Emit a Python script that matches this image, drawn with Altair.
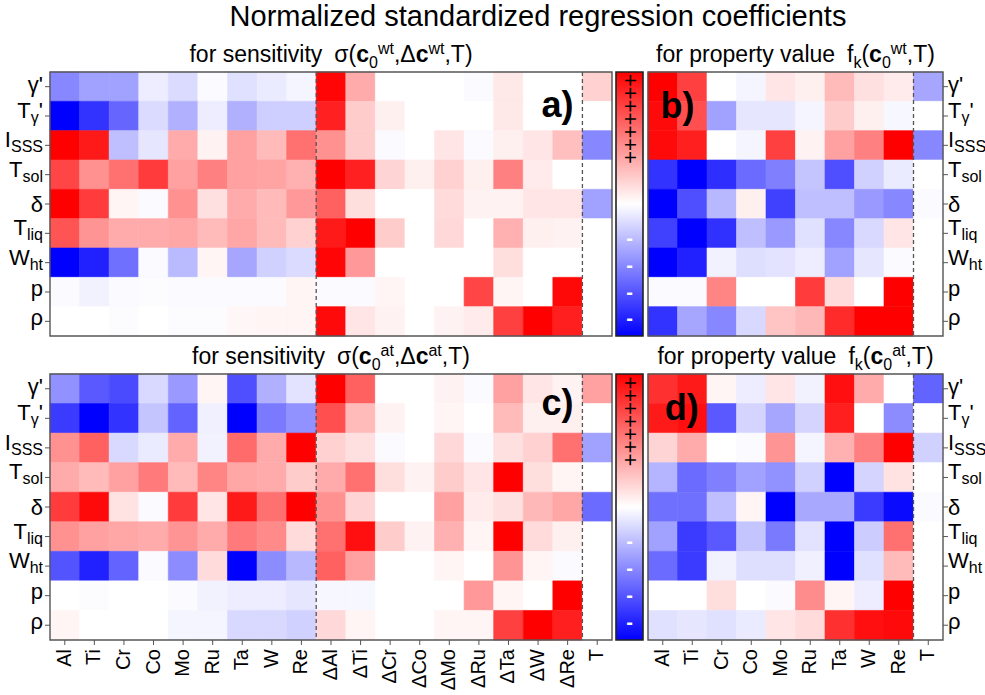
import altair as alt
import pandas as pd

# ---------------- data ----------------
TITLE = "Normalized standardized regression coefficients"
SENS_TEXT = "for sensitivity"
PROP_TEXT = "for property value"
SUPERS = ["wt", "at"]
PANEL_TAGS = ["a)", "b)", "c)", "d)"]
PLUS_SIGNS = "+" * 7
MINUS_SIGNS = ["-"] * 4

ROW_MAIN = ["γ'", "T", "I", "T", "δ", "T", "W", "p", "ρ"]
ROW_SUB = ["", "γ", "SSS", "sol", "", "liq", "ht", "", ""]
ROW_SUFFIX = ["", "'", "", "", "", "", "", "", ""]

ELEMENTS = ["Al", "Ti", "Cr", "Co", "Mo", "Ru", "Ta", "W", "Re"]
DELTA_ELEMENTS = ["ΔAl", "ΔTi", "ΔCr", "ΔCo", "ΔMo", "ΔRu", "ΔTa", "ΔW", "ΔRe"]
TEMP = ["T"]

# a) sensitivity, wt  (rows: γ', Tγ', Isss, Tsol, δ, Tliq, Wht, p, ρ)
SENS_WT = [
    [-0.47, -0.37, -0.37, -0.07, -0.14, -0.02, -0.12, -0.08, -0.04, 0.98, 0.33, 0, 0, 0, -0.02, 0.09, 0, 0, 0.18],
    [-1.0, -0.80, -0.60, -0.14, -0.31, -0.07, -0.31, -0.19, -0.19, 0.87, 0.20, 0.06, 0, 0, 0, 0.09, 0, 0, 0],
    [1.0, 0.90, -0.25, -0.10, 0.33, 0.05, 0.37, 0.27, 0.56, 0.43, 0.20, -0.02, 0, 0.10, -0.02, 0.06, 0.10, 0.25, -0.47],
    [0.73, 0.43, 0.56, 0.77, 0.37, 0.50, 0.37, 0.36, 0.31, 1.0, 0.87, 0.17, 0.06, 0.18, 0.06, 0.50, 0.08, 0, 0],
    [1.0, 0.77, 0.04, -0.02, 0.43, 0.12, 0.33, 0.27, 0.40, 0.62, 0.13, 0, 0, 0.14, 0.05, 0.05, 0.10, 0.10, -0.37],
    [0.67, 0.42, 0.33, 0.33, 0.35, 0.27, 0.35, 0.27, 0.18, 0.90, 1.0, 0.20, 0, 0.15, 0, 0.31, 0.06, 0.05, 0],
    [-1.0, -0.87, -0.56, -0.02, -0.27, 0.04, -0.35, -0.18, -0.14, 0.98, 0.40, 0, 0, 0, 0, 0.13, 0, 0, 0],
    [-0.02, -0.05, -0.02, -0.01, -0.02, -0.02, -0.02, -0.02, 0.04, -0.02, -0.02, 0.04, 0, 0, 0.73, 0.04, 0, 0.97, 0],
    [0, 0, -0.01, 0, -0.01, -0.01, 0.03, 0.04, 0.04, 0.96, 0.10, 0.05, 0, 0.05, 0.08, 0.75, 1.0, 0.88, 0],
]

# b) property value, wt
PROP_WT = [
    [1.0, 0.75, 0, -0.04, 0.10, 0.06, 0.27, 0.12, 0.08, -0.35],
    [0.96, 0.69, -0.37, -0.10, -0.10, -0.04, 0.20, 0.06, -0.03, 0],
    [0.96, 0.88, 0, -0.04, 0.75, 0.05, 0.37, 0.50, 1.0, -0.47],
    [-0.80, -1.0, -0.82, -0.58, -0.50, -0.23, -0.69, -0.18, -0.08, 0],
    [-1.0, -0.69, -0.28, 0.06, -0.75, -0.25, -0.25, -0.40, -0.47, -0.02],
    [-0.75, -1.0, -0.81, -0.25, -0.40, -0.12, -0.47, -0.15, 0.10, 0],
    [-1.0, -0.87, -0.05, -0.13, -0.11, -0.07, -0.37, -0.10, -0.02, 0],
    [-0.02, -0.02, 0.48, 0, 0, 0.77, 0.14, 0, 1.0, 0],
    [-0.80, -0.35, -0.47, -0.15, 0.23, 0.28, 0.83, 1.0, 1.0, 0],
]

# c) sensitivity, at
SENS_AT = [
    [-0.43, -0.65, -0.71, -0.15, -0.40, 0.04, -0.69, -0.31, -0.11, 1.0, 0.62, 0, 0, 0.05, -0.02, 0.37, 0.10, 0.05, 0.37],
    [-0.77, -1.0, -0.80, -0.23, -0.61, -0.06, -1.0, -0.52, -0.43, 0.69, 0.27, 0.05, 0, 0.04, 0, 0.27, 0.06, 0.06, 0],
    [0.43, 0.62, -0.15, -0.08, 0.33, -0.05, 0.58, 0.33, 1.0, 0.18, 0.12, -0.02, 0, 0.15, -0.02, 0.12, 0.18, 0.56, -0.37],
    [0.33, 0.27, 0.37, 0.52, 0.27, 0.48, 0.35, 0.33, 0.20, 0.33, 0.56, 0.13, 0.05, 0.20, 0.10, 1.0, 0.13, 0.04, 0],
    [0.77, 0.96, 0.11, -0.02, 0.77, 0.10, 0.90, 0.56, 1.0, 0.43, 0.17, 0, 0, 0.37, 0.08, 0.12, 0.28, 0.35, -0.58],
    [0.43, 0.37, 0.35, 0.33, 0.42, 0.33, 0.52, 0.46, 0.14, 0.56, 0.94, 0.20, 0.05, 0.31, 0.04, 1.0, 0.14, 0.06, 0],
    [-0.67, -0.87, -0.61, -0.02, -0.45, 0.14, -1.0, -0.45, -0.28, 0.62, 0.37, 0, 0, 0.04, 0, 0.42, 0.04, -0.02, 0],
    [0, -0.01, 0, 0, -0.02, -0.05, -0.07, -0.07, -0.10, -0.03, -0.03, 0, 0, 0, 0.40, 0.04, 0, 1.0, 0],
    [0.04, 0, 0, 0, -0.04, -0.04, -0.15, -0.15, -0.18, 0.15, 0.04, 0, 0, 0.04, 0.04, 0.75, 1.0, 0.88, 0],
]

# d) property value, at
PROP_AT = [
    [0.81, 0.90, 0.04, -0.07, 0.10, -0.05, 0.94, 0.33, 0, -0.61],
    [0.90, 0.94, -0.65, -0.17, -0.35, -0.17, 0.88, 0, -0.45, 0],
    [0.17, 0.33, 0, -0.02, 0.42, -0.04, 0.31, 0.50, 1.0, -0.18],
    [-0.29, -0.58, -0.50, -0.37, -0.43, -0.18, -1.0, -0.17, 0.11, 0],
    [-0.56, -0.56, -0.25, 0.04, -1.0, -0.34, -0.34, -0.77, -0.96, -0.02],
    [-0.37, -0.77, -0.65, -0.23, -0.52, -0.11, -1.0, -0.20, 0.56, 0],
    [-0.58, -0.77, -0.05, -0.13, -0.13, -0.06, -1.0, -0.12, 0.27, 0],
    [0, 0, 0.13, 0, -0.02, 0.45, 0.04, -0.07, 1.0, 0],
    [-0.12, -0.10, -0.12, -0.08, 0.10, 0.14, 0.81, 0.94, 0.96, 0],
]

# ---------------- style / layout ----------------
FONT = "Liberation Sans"
GRID = "#555555"
LEFT_X = (50, 612)
CBAR_X = (616, 643)
RIGHT_X = (648, 943)
TOP_Y = (72, 336)
BOT_Y = (374, 640)
HEAD_M, HEAD_S = 23, 16
LAB_M, LAB_S = 22, 16

W_REG = {' ': 278, 'f': 278, 'o': 556, 'r': 333, 's': 500, 'e': 556, 'n': 556, 'i': 222,
         't': 278, 'v': 500, 'y': 500, 'p': 556, 'a': 556, 'l': 222, 'u': 556, 'k': 500,
         'T': 611, 'w': 722, 'h': 556, 'q': 556, 'S': 667, 'I': 278, 'W': 944, '(': 333,
         ')': 333, ',': 278, '0': 556, "'": 191, 'γ': 500, 'δ': 556, 'ρ': 571, 'σ': 617,
         'Δ': 668}
W_BOLD = {'c': 556}


def tw(s, size, bold=False):
    tab = W_BOLD if bold else W_REG
    return sum(tab.get(ch, 556) for ch in s) * size / 1000.0


CSCALE = alt.Scale(domain=[-1, 0, 1], range=["#0000ff", "#ffffff", "#ff0000"],
                   interpolate="rgb", clamp=True)


def text_layer(txt, xv, yv, X, Y, **kw):
    d = pd.DataFrame({"t": [txt], "x": [xv], "y": [yv]})
    opts = dict(font=FONT, color="black")
    opts.update(kw)
    return alt.Chart(d).mark_text(**opts).encode(x=X("x"), y=Y("y"), text="t:N")


def heading_segments(kind, sup):
    if kind == "sens":
        return [(SENS_TEXT, HEAD_M, False, 0), None, ("σ(", HEAD_M, False, 0),
                ("c", HEAD_M, True, 0), ("0", HEAD_S, False, 1), (sup, HEAD_S, False, -1),
                (",Δ", HEAD_M, False, 0), ("c", HEAD_M, True, 0), (sup, HEAD_S, False, -1),
                (",T)", HEAD_M, False, 0)]
    return [(PROP_TEXT, HEAD_M, False, 0), None, ("f", HEAD_M, False, 0),
            ("k", HEAD_S, False, 1), ("(", HEAD_M, False, 0), ("c", HEAD_M, True, 0),
            ("0", HEAD_S, False, 1), (sup, HEAD_S, False, -1), (",T)", HEAD_M, False, 0)]


def panel(mat, cols, xr, yr, dashed, tag, tag_pos, side, show_x, heading):
    nc, nr = len(cols), len(ROW_MAIN)
    xs = alt.Scale(domain=[0, nc], range=list(xr), nice=False, zero=False)
    ys = alt.Scale(domain=[0, nr], range=list(yr), nice=False, zero=False)

    def X(f):
        return alt.X(f, type="quantitative", scale=xs, axis=None)

    def Y(f):
        return alt.Y(f, type="quantitative", scale=ys, axis=None)

    recs = [dict(x0=j, x1=j + 1, y0=i, y1=i + 1, v=mat[i][j])
            for i in range(nr) for j in range(nc)]
    df = pd.DataFrame(recs)
    layers = []
    layers.append(alt.Chart(df).mark_rect(strokeWidth=0.6).encode(
        x=X("x0"), x2=alt.X2("x1"), y=Y("y0"), y2=alt.Y2("y1"),
        color=alt.Color("v:Q", scale=CSCALE, legend=None),
        stroke=alt.Stroke("v:Q", scale=CSCALE, legend=None)))
    dd = pd.DataFrame({"xd": dashed, "ya": [0] * len(dashed), "yb": [nr] * len(dashed)})
    layers.append(alt.Chart(dd).mark_rule(strokeDash=[4, 3], color=GRID, strokeWidth=1.3).encode(
        x=X("xd"), y=Y("ya"), y2=alt.Y2("yb")))
    fr = pd.DataFrame({"a": [0], "b": [nc], "c": [0], "d": [nr]})
    layers.append(alt.Chart(fr).mark_rect(fillOpacity=0, stroke=GRID, strokeWidth=1.4).encode(
        x=X("a"), x2=alt.X2("b"), y=Y("c"), y2=alt.Y2("d")))

    # row ticks
    tk = pd.DataFrame({"xe": [0 if side == "left" else nc] * nr,
                       "yc": [i + 0.5 for i in range(nr)]})
    layers.append(alt.Chart(tk).mark_rule(color=GRID, strokeWidth=1,
                                          x2Offset=-5 if side == "left" else 5).encode(
        x=X("xe"), x2=alt.X2("xe"), y=Y("yc")))

    # row labels (main + subscript + suffix)
    anchor = 0 if side == "left" else nc
    for i in range(nr):
        segs = [(ROW_MAIN[i], LAB_M, 0), (ROW_SUB[i], LAB_S, 1), (ROW_SUFFIX[i], LAB_M, 0)]
        segs = [s for s in segs if s[0]]
        widths = [tw(t, sz) for t, sz, _ in segs]
        has_sub = any(k == 1 for _, _, k in segs)
        if has_sub:
            base = 2
        elif ROW_MAIN[i] == "δ":
            base = 7.5
        elif ROW_MAIN[i] in ("p", "ρ"):
            base = 3.5
        else:
            base = 5.5
        cur = (-7 - sum(widths)) if side == "left" else 5
        for (t, sz, k), w in zip(segs, widths):
            layers.append(text_layer(t, anchor, i + 0.5, X, Y, fontSize=sz, align="left",
                                     baseline="alphabetic", dx=cur, dy=base + (5 if k else 0)))
            cur += w

    # column ticks + labels
    if show_x:
        cx = pd.DataFrame({"lab": cols, "xc": [j + 0.5 for j in range(nc)], "yb": [nr] * nc})
        layers.append(alt.Chart(cx).mark_rule(color=GRID, strokeWidth=1, y2Offset=5).encode(
            x=X("xc"), y=Y("yb"), y2=alt.Y2("yb")))
        layers.append(alt.Chart(cx).mark_text(font=FONT, fontSize=20, angle=270, align="right",
                                              baseline="middle", yOffset=9, color="black").encode(
            x=X("xc"), y=Y("yb"), text="lab:N"))

    # panel tag
    layers.append(text_layer(tag, tag_pos[0], tag_pos[1], X, Y, fontSize=36, fontWeight="bold",
                             align="center", baseline="alphabetic"))

    # heading above the panel
    segs = heading_segments(*heading)
    gap = 12
    total = sum(gap if s is None else tw(s[0], s[1], s[2]) for s in segs)
    cur = -total / 2.0
    for s in segs:
        if s is None:
            cur += gap
            continue
        t, sz, bold, pos = s
        dy = {0: -10, 1: -4, -1: -18}[pos]
        layers.append(text_layer(t, nc / 2.0, 0, X, Y, fontSize=sz,
                                 fontWeight="bold" if bold else "normal",
                                 align="left", baseline="alphabetic", dx=cur, dy=dy))
        cur += tw(t, sz, bold)
    return alt.layer(*layers)


def colorbar(xr, yr):
    xs = alt.Scale(domain=[0, 1], range=list(xr), nice=False, zero=False)
    ys = alt.Scale(domain=[0, 1], range=list(yr), nice=False, zero=False)

    def X(f):
        return alt.X(f, type="quantitative", scale=xs, axis=None)

    def Y(f):
        return alt.Y(f, type="quantitative", scale=ys, axis=None)

    grad = alt.LinearGradient(
        gradient="linear", x1=0, x2=0, y1=0, y2=1,
        stops=[alt.GradientStop(color="#ff0000", offset=0),
               alt.GradientStop(color="#ffffff", offset=0.5),
               alt.GradientStop(color="#0000ff", offset=1)])
    d = pd.DataFrame({"a": [0], "b": [1]})
    bar = alt.Chart(d).mark_rect(color=grad, stroke="#222222", strokeWidth=1.6).encode(
        x=X("a"), x2=alt.X2("b"), y=Y("a"), y2=alt.Y2("b"))
    pos = pd.DataFrame({"x": [0.5], "yp": [0.178], "ym": [0.655]})
    # the plus column is one rotated run of "+" glyphs (a plus looks the same rotated)
    plus = alt.Chart(pos).mark_text(font=FONT, fontSize=22, color="black", baseline="middle",
                                    align="center", angle=90, text=PLUS_SIGNS).encode(
        x=X("x"), y=Y("yp"))
    minus = alt.Chart(pos).mark_text(font=FONT, fontSize=20, fontWeight="bold", color="white",
                                     baseline="alphabetic", align="center", lineHeight=26.8,
                                     text=MINUS_SIGNS).encode(x=X("x"), y=Y("ym"))
    return alt.layer(bar, plus, minus)


COLS_SENS = ELEMENTS + DELTA_ELEMENTS + TEMP
COLS_PROP = ELEMENTS + TEMP

pa = panel(SENS_WT, COLS_SENS, LEFT_X, TOP_Y, [9, 18], PANEL_TAGS[0], (17.16, 1.54),
           "left", False, ("sens", SUPERS[0]))
pb = panel(PROP_WT, COLS_PROP, RIGHT_X, TOP_Y, [9], PANEL_TAGS[1], (1.0, 1.56),
           "right", False, ("prop", SUPERS[0]))
pc = panel(SENS_AT, COLS_SENS, LEFT_X, BOT_Y, [9, 18], PANEL_TAGS[2], (17.16, 1.39),
           "left", True, ("sens", SUPERS[1]))
pd_ = panel(PROP_AT, COLS_PROP, RIGHT_X, BOT_Y, [9], PANEL_TAGS[3], (1.14, 1.56),
            "right", True, ("prop", SUPERS[1]))
cb1 = colorbar(CBAR_X, TOP_Y)
cb2 = colorbar(CBAR_X, BOT_Y)

title = alt.Chart(pd.DataFrame({"t": [TITLE]})).mark_text(
    font=FONT, fontSize=29, align="center", baseline="alphabetic", color="black").encode(
    x=alt.value(538), y=alt.value(26), text="t:N")

chart = alt.layer(title, pa, cb1, pb, pc, cb2, pd_).resolve_scale(
    x="independent", y="independent").properties(
    width=985, height=695, padding=0,
    autosize=alt.AutoSizeParams(type="none"), background="white"
).configure_view(strokeWidth=0)

chart.save("out.html", embed_options={"renderer": "svg", "actions": False})
